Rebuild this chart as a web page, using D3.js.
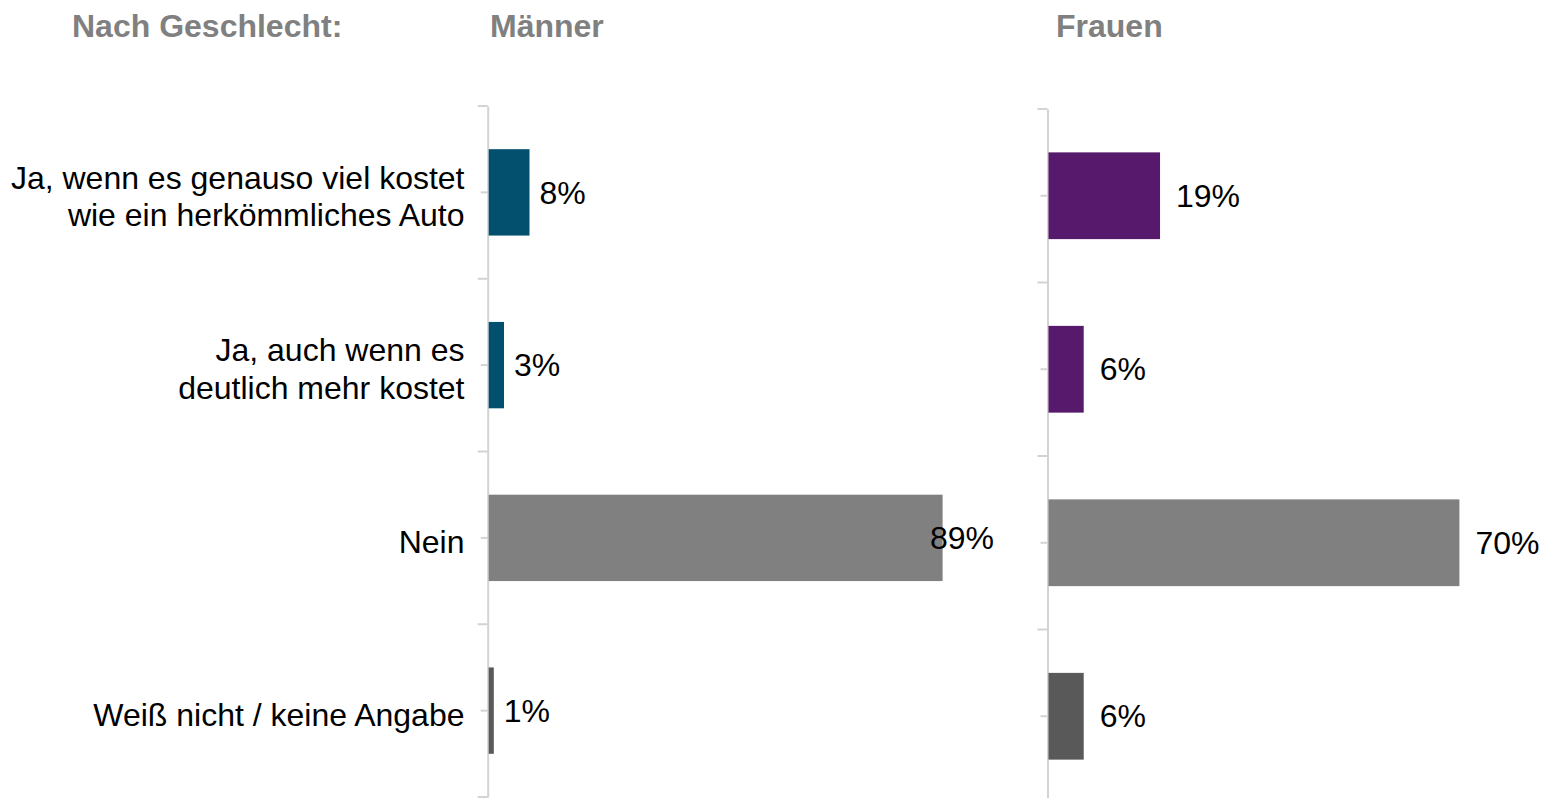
<!DOCTYPE html>
<html lang="de">
<head>
<meta charset="utf-8">
<title>Nach Geschlecht</title>
<script src="https://cdn.jsdelivr.net/npm/d3@7"></script>
<style>
  html, body { margin: 0; padding: 0; background: #ffffff; }
  svg { display: block; }
  text { font-family: "Liberation Sans", Arial, Helvetica, sans-serif; }
</style>
</head>
<body>
<svg id="chart" width="1546" height="798"></svg>
<script>
// Survey answers, one row per category (line breaks as separate entries)
const categories = [
  "Ja, wenn es genauso viel kostet\nwie ein herkömmliches Auto",
  "Ja, auch wenn es\ndeutlich mehr kostet",
  "Nein",
  "Weiß nicht / keine Angabe"
];
const maennerValues = [8, 3, 89, 1];
const frauenValues = [19, 6, 70, 6];
const panelTitles = ["Männer", "Frauen"];
const headerLabel = "Nach Geschlecht:";

const svg = d3.select("#chart");

const BODY_FONT = 32;
const axisColor = "#d3d3d3";

// Panel geometry and colour settings
const panels = [
  {
    title: panelTitles[0], values: maennerValues,
    axisX: 487.7, yRange: [106, 797], pxPer100: 510,
    labelGap: 10, rightLimit: 994, titleX: 490,
    colors: ["#02506e", "#02506e", "#808080", "#595959"]
  },
  {
    title: panelTitles[1], values: frauenValues,
    axisX: 1047.5, yRange: [109, 803], pxPer100: 587,
    labelGap: 16, rightLimit: 1546, titleX: 1056,
    colors: ["#56196b", "#56196b", "#808080", "#595959"]
  }
];

// Header row
svg.append("text")
  .attr("x", 72).attr("y", 36.5)
  .attr("font-size", 32).attr("font-weight", "bold")
  .attr("fill", "#808080")
  .text(headerLabel);

panels.forEach((p, pi) => {
  const y = d3.scaleBand()
    .domain(categories)
    .range(p.yRange)
    .paddingInner(0.5)
    .paddingOuter(0.25);

  const x0 = p.axisX + 1;
  const x = d3.scaleLinear().domain([0, 100]).range([x0, x0 + p.pxPer100]);

  const g = svg.append("g");

  // Panel title
  svg.append("text")
    .attr("x", p.titleX).attr("y", 36.5)
    .attr("font-size", 32).attr("font-weight", "bold")
    .attr("fill", "#808080")
    .text(p.title);

  // Category axis: ticks at band centres
  const axis = d3.axisLeft(y).tickSize(7).tickSizeOuter(0).tickFormat("");
  const ax = g.append("g")
    .attr("transform", `translate(${p.axisX},0)`)
    .call(axis);
  ax.select(".domain").attr("stroke", axisColor).attr("stroke-width", 2);
  ax.selectAll(".tick line").attr("stroke", axisColor).attr("stroke-width", 2);

  // Longer ticks at the category boundaries
  const step = y.step();
  const bounds = d3.range(categories.length + 1).map(i => p.yRange[0] + i * step);
  g.selectAll("line.bound")
    .data(bounds)
    .join("line")
    .attr("class", "bound")
    .attr("x1", p.axisX - 10).attr("x2", p.axisX)
    .attr("y1", d => d).attr("y2", d => d)
    .attr("stroke", axisColor).attr("stroke-width", 2);

  // Bars
  g.selectAll("rect.bar")
    .data(p.values)
    .join("rect")
    .attr("class", "bar")
    .attr("x", x(0))
    .attr("y", (d, i) => y(categories[i]))
    .attr("width", d => x(d) - x(0))
    .attr("height", y.bandwidth())
    .attr("fill", (d, i) => p.colors[i]);

  // Value labels, kept inside the panel's right edge
  const labels = g.selectAll("text.val")
    .data(p.values)
    .join("text")
    .attr("class", "val")
    .attr("font-size", BODY_FONT)
    .attr("fill", "#000")
    .attr("y", (d, i) => y(categories[i]) + y.bandwidth() / 2)
    .attr("dy", "0.35em")
    .text(d => d + "%");
  labels.each(function (d) {
    const w = this.getComputedTextLength();
    const lx = Math.min(x(d) + p.labelGap, p.rightLimit - w);
    d3.select(this).attr("x", lx);
  });

  // Category labels on the left of the first panel
  if (pi === 0) {
    const lineH = BODY_FONT * 1.18;
    categories.forEach(c => {
      const lines = c.split("\n");
      const cy = y(c) + y.bandwidth() / 2 + 4;
      const t = svg.append("text")
        .attr("font-size", BODY_FONT)
        .attr("fill", "#000")
        .attr("text-anchor", "end");
      lines.forEach((ln, li) => {
        t.append("tspan")
          .attr("x", 464.5)
          .attr("y", cy + (li - (lines.length - 1) / 2) * lineH)
          .attr("dy", "0.35em")
          .text(ln);
      });
    });
  }
});
</script>
</body>
</html>
